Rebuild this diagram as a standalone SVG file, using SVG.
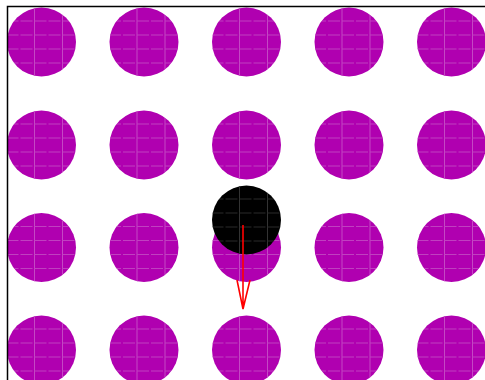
<svg xmlns="http://www.w3.org/2000/svg" xmlns:xlink="http://www.w3.org/1999/xlink" width="485" height="380" viewBox="0 0 485 380">
<style>
.ball{fill:#b000b0}
.gl{stroke:#c448c4;stroke-width:1;fill:none}
.gh{stroke:#c040c0;stroke-width:1;fill:none;stroke-dasharray:12 2}
.kgl{stroke:#333;stroke-width:1;fill:none}
.kgh{stroke:#2a2a2a;stroke-width:1;fill:none;stroke-dasharray:12 2}
.frame{stroke:#000;stroke-width:1.5;fill:none}
.arrow{stroke:#f00;stroke-width:1.6;fill:none}
</style>
<defs>
<clipPath id="cc"><circle cx="0" cy="0" r="34.5"/></clipPath>
<g id="mball">
<circle class="ball" cx="0" cy="0" r="34.5"/>
<g clip-path="url(#cc)">
<path class="gl" d="M-7,-35V35M21,-35V35"/>
<path class="gh" d="M-35,-21H35M-35,-7H35M-35,7H35M-35,21H35"/>
</g>
</g>
<g id="kball">
<circle fill="#000" cx="0" cy="0" r="34.5"/>
<g clip-path="url(#cc)">
<path class="kgl" d="M-7,-35V35M21,-35V35"/>
<path class="kgh" d="M-35,-21H35M-35,-7H35M-35,7H35M-35,21H35"/>
</g>
</g>
</defs>
<rect width="485" height="380" fill="#fff"/>
<g id="balls">
<use id="b11" xlink:href="#mball" x="41.5" y="42"/>
<use id="b12" xlink:href="#mball" x="144" y="42"/>
<use id="b13" xlink:href="#mball" x="246.5" y="42"/>
<use id="b14" xlink:href="#mball" x="349" y="42"/>
<use id="b15" xlink:href="#mball" x="451.5" y="42"/>
<use id="b21" xlink:href="#mball" x="41.5" y="145"/>
<use id="b22" xlink:href="#mball" x="144" y="145"/>
<use id="b23" xlink:href="#mball" x="246.5" y="145"/>
<use id="b24" xlink:href="#mball" x="349" y="145"/>
<use id="b25" xlink:href="#mball" x="451.5" y="145"/>
<use id="b31" xlink:href="#mball" x="41.5" y="247.5"/>
<use id="b32" xlink:href="#mball" x="144" y="247.5"/>
<use id="b33" xlink:href="#mball" x="246.5" y="247.5"/>
<use id="b34" xlink:href="#mball" x="349" y="247.5"/>
<use id="b35" xlink:href="#mball" x="451.5" y="247.5"/>
<use id="b41" xlink:href="#mball" x="41.5" y="350"/>
<use id="b42" xlink:href="#mball" x="144" y="350"/>
<use id="b43" xlink:href="#mball" x="246.5" y="350"/>
<use id="b44" xlink:href="#mball" x="349" y="350"/>
<use id="b45" xlink:href="#mball" x="451.5" y="350"/>
</g>
<g id="cue"><use xlink:href="#kball" x="246.5" y="220"/></g>
<g id="connectors">
<path class="arrow" d="M243,225V309M237,280L243,309L250,280"/>
</g>
<path class="frame" d="M7.5,380V6.5H485"/>
</svg>
